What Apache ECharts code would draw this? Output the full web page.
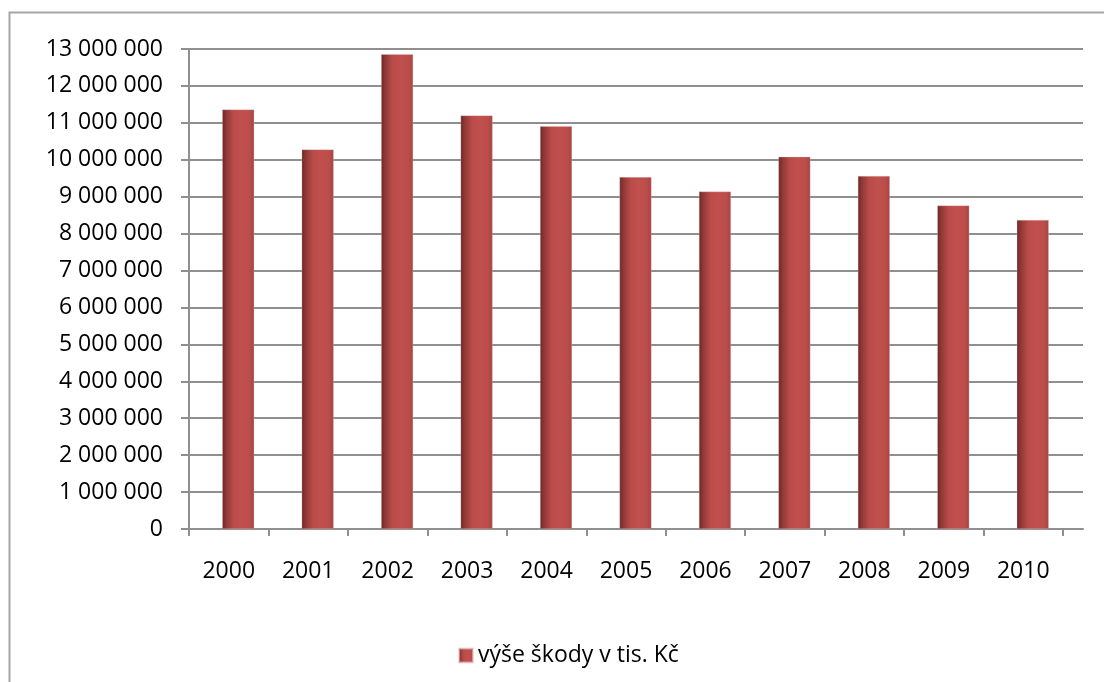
<!DOCTYPE html>
<html>
<head>
<meta charset="utf-8">
<script src="https://cdn.jsdelivr.net/npm/echarts@6/dist/echarts.min.js"></script>
<style>
html,body{margin:0;padding:0;background:#fff;}
#c{width:1104px;height:682px;}
</style>
</head>
<body>
<div id="c"></div>
<script>
const categories = ['2000','2001','2002','2003','2004','2005','2006','2007','2008','2009','2010'];
const seriesName = 'výše škody v tis. Kč';
const values = [11360000, 10280000, 12860000, 11200000, 10910000, 9530000, 9140000, 10080000, 9560000, 8760000, 8370000];
const yMin = 0, yMax = 13000000, yInterval = 1000000;

const fontFamily = '"Open Sans", "Noto Sans", sans-serif';
const gridColor = '#8f8f8f';
const fmt = v => String(v).replace(/\B(?=(\d{3})+(?!\d))/g, ' ');

const chart = echarts.init(document.getElementById('c'), null, {renderer: 'canvas'});
chart.setOption({
  animation: false,
  backgroundColor: '#ffffff',
  textStyle: {fontFamily: fontFamily},
  graphic: [{
    type: 'rect',
    shape: {x: 9.5, y: 12.5, width: 1200, height: 800},
    style: {fill: 'none', stroke: '#a6a6a6', lineWidth: 2},
    silent: true, z: -10
  }],
  legend: {
    data: [seriesName],
    left: 453, top: 639,
    icon: 'rect', itemWidth: 14, itemHeight: 14, itemGap: 10,
    textStyle: {fontFamily: fontFamily, fontSize: 23, color: '#000'}
  },
  grid: [
    {left: 189, top: 49, width: 894, height: 480},
    {left: 189, top: 49, width: 874, height: 480},
    {left: 198.5, top: 49, width: 874, height: 480}
  ],
  xAxis: [
    {gridIndex: 0, type: 'value', min: 0, max: 1,
     axisLine: {show: true, lineStyle: {color: gridColor, width: 2}},
     axisTick: {show: false}, axisLabel: {show: false}, splitLine: {show: false}},
    {gridIndex: 1, type: 'category', data: categories, boundaryGap: true,
     axisLine: {show: false},
     axisTick: {show: true, length: 7, inside: false, lineStyle: {color: gridColor, width: 2}},
     axisLabel: {show: true, margin: 31, fontSize: 23, lineHeight: 23, color: '#000', fontFamily: fontFamily},
     splitLine: {show: false}},
    {gridIndex: 2, type: 'category', data: categories, boundaryGap: true, show: false}
  ],
  yAxis: [
    {gridIndex: 0, type: 'value', min: yMin, max: yMax, interval: yInterval,
     axisLine: {show: true, lineStyle: {color: gridColor, width: 2}},
     axisTick: {show: true, length: 8, inside: false, lineStyle: {color: gridColor, width: 2}},
     axisLabel: {show: true, margin: 26, fontSize: 23, color: '#000', fontFamily: fontFamily, formatter: fmt},
     splitLine: {show: true, lineStyle: {color: gridColor, width: 2}}},
    {gridIndex: 1, type: 'value', min: yMin, max: yMax, interval: yInterval, show: false},
    {gridIndex: 2, type: 'value', min: yMin, max: yMax, interval: yInterval, show: false}
  ],
  series: [{
    name: seriesName,
    type: 'bar',
    xAxisIndex: 2, yAxisIndex: 2,
    data: values,
    barWidth: 32,
    itemStyle: {
      color: new echarts.graphic.LinearGradient(0, 0, 1, 0, [
        {offset: 0, color: '#6a2624'},
        {offset: 0.12, color: '#8e3836'},
        {offset: 0.35, color: '#b94b48'},
        {offset: 0.6, color: '#c0504d'},
        {offset: 0.85, color: '#bb4d4a'},
        {offset: 1, color: '#a64441'}
      ]),
      borderColor: 'rgba(230,200,200,0.6)', borderWidth: 0.5
    }
  }]
});
</script>
</body>
</html>
